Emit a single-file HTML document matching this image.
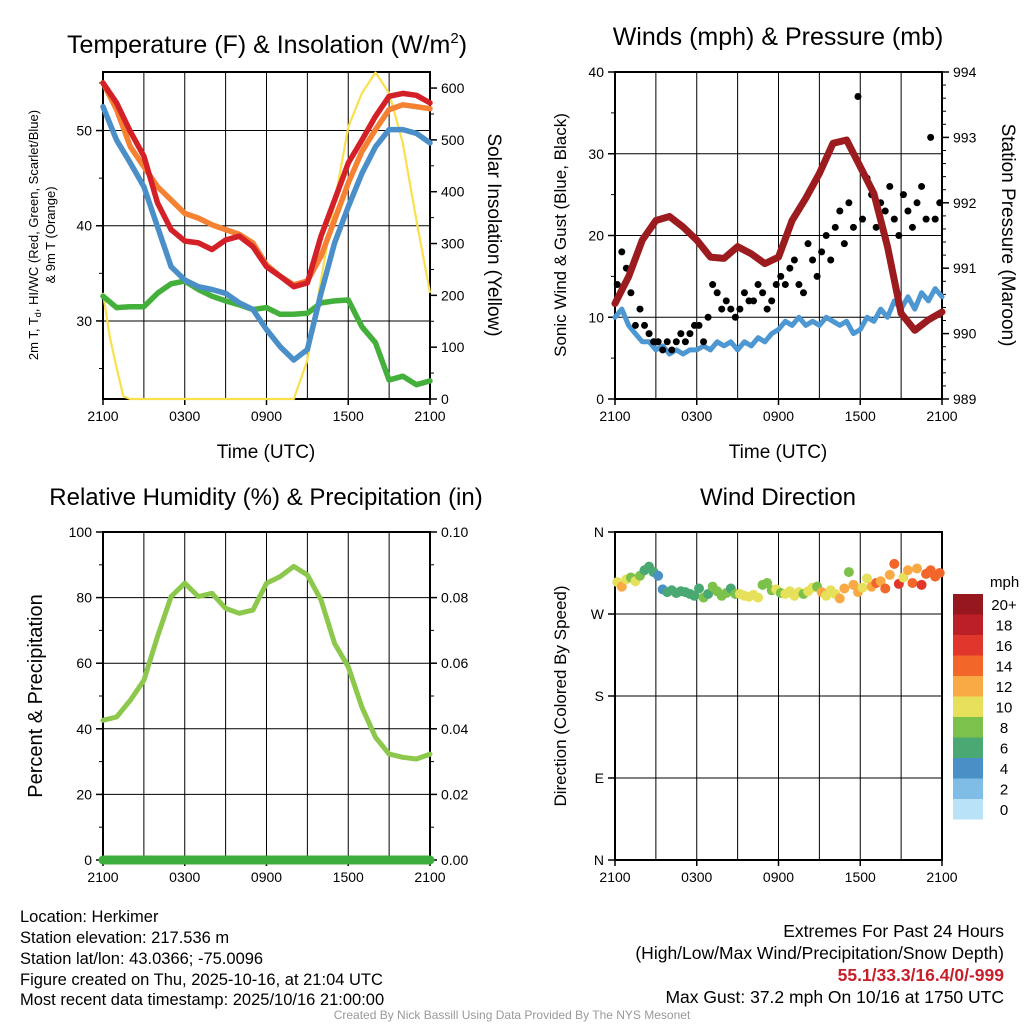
<!DOCTYPE html>
<html><head><meta charset="utf-8"><style>
html,body{margin:0;padding:0;background:#fff;}
svg{display:block;font-family:"Liberation Sans",sans-serif;}
</style></head><body>
<svg id="chart" width="1024" height="1024" viewBox="0 0 1024 1024">
<text x="267" y="53" text-anchor="middle" font-size="25">Temperature (F) &amp; Insolation (W/m<tspan font-size="15" dy="-10">2</tspan><tspan dy="10">)</tspan></text>
<text x="778" y="45" text-anchor="middle" font-size="25">Winds (mph) &amp; Pressure (mb)</text>
<text x="266" y="505" text-anchor="middle" font-size="24">Relative Humidity (%) &amp; Precipitation (in)</text>
<text x="778" y="505" text-anchor="middle" font-size="24">Wind Direction</text>

<text transform="translate(38,235) rotate(-90)" text-anchor="middle" font-size="13">2m T, T<tspan font-size="9" dy="3">d</tspan><tspan dy="-3">, HI/WC (Red, Green, Scarlet/Blue)</tspan></text>
<text transform="translate(55,235) rotate(-90)" text-anchor="middle" font-size="13">&amp; 9m T (Orange)</text>
<text transform="translate(488,235) rotate(90)" text-anchor="middle" font-size="19">Solar Insolation (Yellow)</text>
<text transform="translate(566,235) rotate(-90)" text-anchor="middle" font-size="17">Sonic Wind &amp; Gust (Blue, Black)</text>
<text transform="translate(1002,235) rotate(90)" text-anchor="middle" font-size="19">Station Pressure (Maroon)</text>
<text transform="translate(42,696) rotate(-90)" text-anchor="middle" font-size="20">Percent &amp; Precipitation</text>
<text transform="translate(566,696) rotate(-90)" text-anchor="middle" font-size="17">Direction (Colored By Speed)</text>
<text x="266" y="458" text-anchor="middle" font-size="19">Time (UTC)</text>
<text x="778" y="458" text-anchor="middle" font-size="19">Time (UTC)</text>

<g font-size="16.5">
<text x="20" y="922">Location: Herkimer</text>
<text x="20" y="943">Station elevation: 217.536 m</text>
<text x="20" y="964">Station lat/lon: 43.0366; -75.0096</text>
<text x="20" y="985">Figure created on Thu, 2025-10-16, at 21:04 UTC</text>
<text x="20" y="1005">Most recent data timestamp: 2025/10/16 21:00:00</text>
</g>
<g font-size="17.5" text-anchor="end">
<text x="1004" y="937">Extremes For Past 24 Hours</text>
<text x="1004" y="959">(High/Low/Max Wind/Precipitation/Snow Depth)</text>
<text x="1004" y="981" fill="#c8202a" font-weight="bold">55.1/33.3/16.4/0/-999</text>
<text x="1004" y="1003">Max Gust: 37.2 mph On 10/16 at 1750 UTC</text>
</g>
<text x="512" y="1019" text-anchor="middle" font-size="12" fill="#999">Created By Nick Bassill Using Data Provided By The NYS Mesonet</text>
</svg>
<script>
// ---- data (hourly, 2100 UTC -> 2100 UTC) ----
const timeLabels = ["2100","0300","0900","1500","2100"];
const temp2m = [55.0,52.9,49.9,47.3,42.4,39.6,38.4,38.2,37.5,38.5,38.9,37.8,35.7,34.7,33.6,34.0,38.9,42.7,46.6,49.0,51.5,53.6,53.9,53.7,52.9];
const temp9m = [55.0,52.2,48.3,46.2,44.1,42.7,41.3,40.8,40.1,39.6,39.1,38.2,35.9,34.7,33.8,34.2,36.8,40.6,44.5,47.8,50.1,52.2,52.7,52.5,52.3];
const dewpoint = [52.5,49.0,46.6,44.1,39.9,35.7,34.3,33.6,33.3,32.9,31.9,31.2,29.1,27.3,25.9,27.0,32.9,38.2,42.0,45.5,48.3,50.1,50.1,49.7,48.7];
const windChill = [32.6,31.4,31.5,31.5,32.9,33.9,34.2,33.3,32.6,32.1,31.7,31.2,31.4,30.7,30.7,30.8,31.9,32.1,32.2,29.4,27.7,23.8,24.2,23.3,23.7];
const solar = [205,60,0,0,0,0,0,0,0,0,0,0,0,0,0,75,230,380,525,590,630,590,494,345,205];
const solarHalf = [205,120,60,5];
const pressure = [990.46,990.87,991.43,991.73,991.79,991.63,991.43,991.17,991.15,991.33,991.22,991.07,991.17,991.73,992.07,992.45,992.91,992.96,992.55,992.14,991.33,990.31,990.05,990.21,990.33];
const wind = [10,11,9,8,7,7,6,6.5,5.5,6,5.5,6,6,6.5,6,7,6.5,7,6,7,6.5,7.5,7,8,8.5,9.5,9,10,9,9.5,9,10,9.5,9,9.5,8,8.5,10,9.5,11,10,12,11,12.5,11,13,12,13.5,12.5];
const gust = [14,18,16,13,9,11,9,8,7,7,6,7,6,7,8,7,8,9,9,7,10,14,13,11,12,11,10,11,13,12,12,14,13,11,12,14,15,14,16,17,14,13,19,17,15,18,20,17,21,23,19,24,21,37,22,27,25,21,24,23,26,22,20,25,23,21,24,26,22,32,22,24];
const humidity = [42.6,43.6,48.7,54.8,68.1,80.3,84.4,80.3,81.3,76.7,75.2,76.2,84.4,86.4,89.5,86.9,79.3,66.0,58.9,46.6,37.4,32.3,31.3,30.8,32.3];
const precip = [0,0,0,0,0,0,0,0,0,0,0,0,0,0,0,0,0,0,0,0,0,0,0,0,0];
const direction = [305,300,308,310,306,312,318,322,316,312,297,294,296,293,295,294,292,290,298,288,292,300,295,290,293,298,292,292,290,289,291,288,302,304,296,297,293,292,295,290,294,292,295,299,300,294,290,296,292,287,298,316,302,294,299,309,300,304,306,298,313,325,303,310,318,304,320,302,314,318,311,315];
const speed = [10,12,9,8,9,7,6,6,5,4,4,6,5,6,6,6,6,6,6,7,6,7,8,7,7,6,8,9,10,10,9,10,8,7,8,9,8,10,9,10,9,8,10,9,7,11,10,9,10,12,11,8,11,12,10,9,12,14,11,13,12,13,16,10,12,14,11,15,14,13,14,13];
const speedBins = ["0","2","4","6","8","10","12","14","16","18","20+"];
const binColors = ["#b9e2f7","#7fbde6","#4a8fc5","#4aa872","#7cc24a","#e7e05a","#f9aa45","#f26629","#e0362b","#bd1f27","#96171d"];

const NS="http://www.w3.org/2000/svg";
const svg=document.getElementById('chart');
function mk(tag,attrs,parent){const e=document.createElementNS(NS,tag);for(const k in attrs)e.setAttribute(k,attrs[k]);(parent||svg).appendChild(e);return e;}
function panel(x0,x1,y0,y1){return {x0,x1,y0,y1,tx:h=>x0+h*(x1-x0)/24};}
function lin(d0,d1,p0,p1){return v=>p0+(v-d0)*(p1-p0)/(d1-d0);}

const P1=panel(103,430,72,399), P2=panel(615,942,72,399), P3=panel(103,430,532,860), P4=panel(615,942,532,860);
const y1L=lin(21.8,56.15,399,72), y1R=lin(0,631,399,72);
const y2L=lin(0,40,399,72), y2R=lin(989,994,399,72);
const y3L=lin(0,100,860,532), y3R=lin(0,0.1,860,532);
const y4=lin(0,360,860,532);

function frame(P,name,hgrid,yS,leftTicks,leftMinor,yR,rightTicks,rightMinor,leftFmt,rightFmt){
  const g=mk('g',{});
  
  
  for(let h=3;h<24;h+=3){const l=mk('line',{x1:P.tx(h),x2:P.tx(h),y1:P.y0,y2:P.y1,stroke:'#000','stroke-width':1},g);
    }
  hgrid.forEach(v=>{const l=mk('line',{x1:P.x0,x2:P.x1,y1:yS(v),y2:yS(v),stroke:'#000','stroke-width':1},g);
    });
  mk('rect',{x:P.x0,y:P.y0,width:P.x1-P.x0,height:P.y1-P.y0,fill:'none',stroke:'#000','stroke-width':2},g);
  for(let h=0;h<=24;h+=6){mk('line',{x1:P.tx(h),x2:P.tx(h),y1:P.y1,y2:P.y1+6,stroke:'#000','stroke-width':1.5},g);}
  timeLabels.forEach((t,i)=>{const e=mk('text',{x:P.tx(i*6),y:P.y1+22,'text-anchor':'middle','font-size':14},g);e.textContent=t;
    });
  leftTicks.forEach(v=>{mk('line',{x1:P.x0-7,x2:P.x0,y1:yS(v),y2:yS(v),stroke:'#000','stroke-width':1.5},g);
    const e=mk('text',{x:P.x0-11,y:yS(v)+5,'text-anchor':'end','font-size':14},g);e.textContent=leftFmt(v);
    });
  leftMinor.forEach(v=>mk('line',{x1:P.x0-4,x2:P.x0,y1:yS(v),y2:yS(v),stroke:'#000','stroke-width':1},g));
  if(yR){rightTicks.forEach(v=>{mk('line',{x1:P.x1,x2:P.x1+7,y1:yR(v),y2:yR(v),stroke:'#000','stroke-width':1.5},g);
    const e=mk('text',{x:P.x1+11,y:yR(v)+5,'font-size':14},g);e.textContent=rightFmt(v);
    });
    rightMinor.forEach(v=>mk('line',{x1:P.x1,x2:P.x1+4,y1:yR(v),y2:yR(v),stroke:'#000','stroke-width':1},g));}
}
function polyline(P,vals,yS,step,color,w,name){
  const pts=vals.map((v,i)=>P.tx(i*step).toFixed(1)+','+yS(v).toFixed(1)).join(' ');
  const e=mk('polyline',{points:pts,fill:'none',stroke:color,'stroke-width':w,'stroke-linejoin':'round','stroke-linecap':'round'});
  
  
  return e;
}
const id=v=>String(v);
// Panel 1
frame(P1,'temperature',[30,40,50],y1L,[30,40,50],[25,35,45,55],y1R,[0,100,200,300,400,500,600],[50,150,250,350,450,550],id,id);
const solarPts=[]; solarHalf.forEach((v,i)=>solarPts.push([i*0.5,v])); for(let h=2;h<=24;h++)solarPts.push([h,solar[h]]);
{const e=mk('polyline',{points:solarPts.map(p=>P1.tx(p[0]).toFixed(1)+','+y1R(p[1]).toFixed(1)).join(' '),fill:'none',stroke:'#f9e04c','stroke-width':2.2,'stroke-linejoin':'round'});
 
 }
polyline(P1,windChill,y1L,1,'#44b03c',5.5,'wind-chill-line');
polyline(P1,dewpoint,y1L,1,'#4a8fc8',5.5,'dewpoint-line');
polyline(P1,temp9m,y1L,1,'#f58133',5.5,'temperature-9m-line');
polyline(P1,temp2m,y1L,1,'#d42027',5.5,'temperature-2m-line');
// Panel 2
frame(P2,'winds',[10,20,30],y2L,[0,10,20,30,40],[5,15,25,35],y2R,[989,990,991,992,993,994],[989.2,989.4,989.6,989.8,990.2,990.4,990.6,990.8,991.2,991.4,991.6,991.8,992.2,992.4,992.6,992.8,993.2,993.4,993.6,993.8],id,id);
polyline(P2,wind,y2L,0.5,'#4d97d2',5,'sonic-wind-line');
gust.forEach((v,i)=>{const c=mk('circle',{cx:P2.tx(i/3+1/6),cy:y2L(v),r:3.5,fill:'#000'});
  
  });
polyline(P2,pressure,y2R,1,'#9b1b1e',7,'pressure-line');
// Panel 3
frame(P3,'humidity',[20,40,60,80],y3L,[0,20,40,60,80,100],[10,30,50,70,90],y3R,[0,0.02,0.04,0.06,0.08,0.1],[0.01,0.03,0.05,0.07,0.09],id,v=>v.toFixed(2));
polyline(P3,humidity,y3L,1,'#8cc84b',5,'relative-humidity-line');
polyline(P3,precip,y3R,1,'#3cae3c',9,'precipitation-line');
// Panel 4
frame(P4,'direction',[90,180,270],y4,[0,90,180,270,360],[],null,[],[],v=>({0:'N',90:'E',180:'S',270:'W',360:'N'})[v],id);
function binOf(s){return Math.min(10,Math.floor((s+1)/2));}
direction.forEach((d,i)=>{const c=mk('circle',{cx:P4.tx(i/3+1/6),cy:y4(d),r:5,fill:binColors[binOf(speed[i])]});
  
  });
// Colorbar
{const t=mk('text',{x:990,y:587,'font-size':15});t.textContent='mph';
 
 }
for(let i=10;i>=0;i--){const k=10-i;const y=594+k*20.5;
  const r=mk('rect',{x:953,y:y,width:30,height:20.5,fill:binColors[i]});
  
  
  const t=mk('text',{x:1004,y:y+16,'text-anchor':'middle','font-size':15});t.textContent=speedBins[i];
  
  }
</script>
</body></html>
